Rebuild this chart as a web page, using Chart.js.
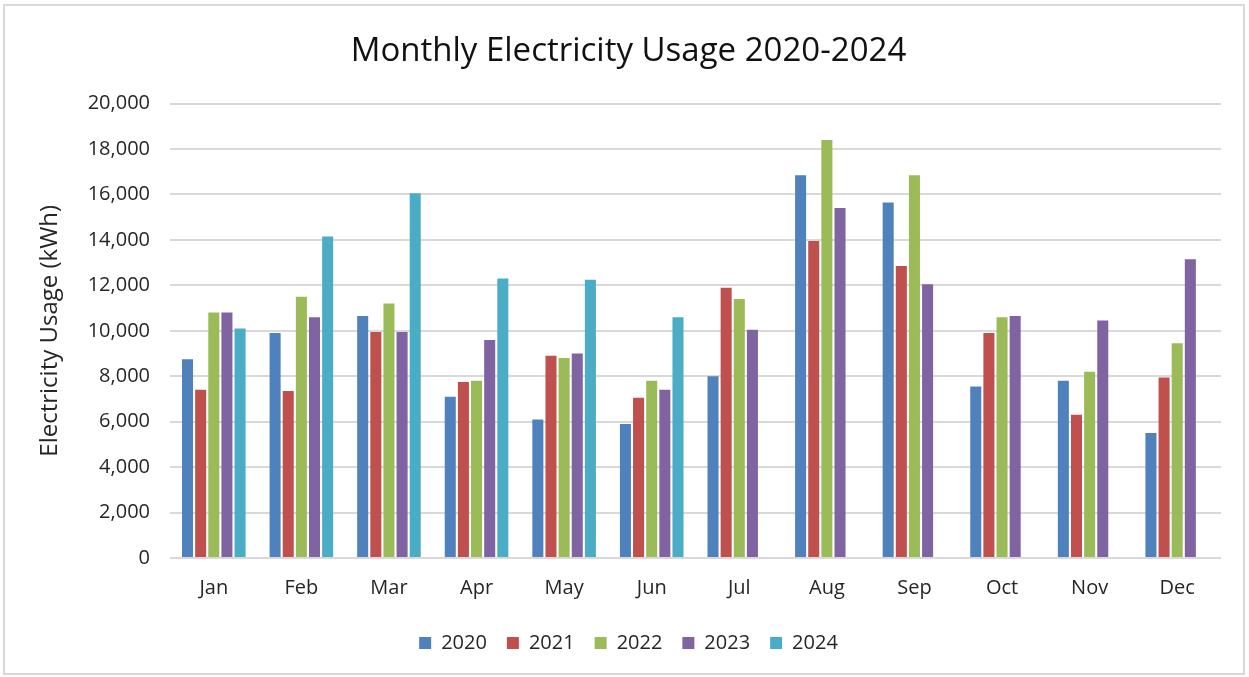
<!DOCTYPE html>
<html>
<head>
<meta charset="utf-8">
<script src="https://cdn.jsdelivr.net/npm/chart.js@4"></script>
<style>
  html, body { margin: 0; padding: 0; background: #ffffff; }
  #wrap { position: absolute; left: 0; top: 0; width: 1249px; height: 677px; }
</style>
</head>
<body>
<div id="wrap"><canvas id="c" width="1249" height="677"></canvas></div>
<script>
const months = ['Jan','Feb','Mar','Apr','May','Jun','Jul','Aug','Sep','Oct','Nov','Dec'];
const years = ['2020','2021','2022','2023','2024'];
const usage2020 = [8750, 9900, 10650, 7100, 6100, 5900, 8000, 16850, 15650, 7550, 7800, 5500];
const usage2021 = [7400, 7350, 9950, 7750, 8900, 7050, 11900, 13950, 12850, 9900, 6300, 7950];
const usage2022 = [10800, 11500, 11200, 7800, 8800, 7800, 11400, 18400, 16850, 10600, 8200, 9450];
const usage2023 = [10800, 10600, 9950, 9600, 9000, 7400, 10050, 15400, 12050, 10650, 10450, 13150];
const usage2024 = [10100, 14150, 16050, 12300, 12250, 10600, null, null, null, null, null, null];
const seriesColors = ['#4f81bd', '#c0504d', '#9bbb59', '#8064a2', '#4bacc6'];
const allSeries = [usage2020, usage2021, usage2022, usage2023, usage2024];

const FONT = '"Open Sans", sans-serif';
const TXT = '#262626';

const borderPlugin = {
  id: 'frame',
  beforeDraw(chart) {
    const ctx = chart.ctx;
    ctx.save();
    ctx.fillStyle = '#ffffff';
    ctx.fillRect(0, 0, chart.width, chart.height);
    ctx.strokeStyle = '#d9d9d9';
    ctx.lineWidth = 2;
    ctx.strokeRect(4, 5, 1240, 669);
    ctx.restore();
  }
};

new Chart(document.getElementById('c'), {
  type: 'bar',
  data: {
    labels: months,
    datasets: years.map((y, i) => ({
      label: y,
      data: allSeries[i],
      backgroundColor: seriesColors[i],
      borderWidth: 0,
      categoryPercentage: 0.75,
      barPercentage: 0.84
    }))
  },
  plugins: [borderPlugin],
  options: {
    responsive: false,
    animation: false,
    devicePixelRatio: 1,
    layout: { padding: { left: 36, right: 28, top: 0, bottom: 14 } },
    plugins: {
      title: {
        display: true,
        text: 'Monthly Electricity Usage 2020-2024',
        color: '#111111',
        font: { family: FONT, size: 33, weight: 'normal' },
        padding: { top: 32, bottom: 32 }
      },
      legend: {
        position: 'bottom',
        labels: {
          color: TXT,
          font: { family: FONT, size: 20 },
          boxWidth: 12,
          boxHeight: 12,
          padding: 20
        }
      },
      tooltip: { enabled: false }
    },
    scales: {
      x: {
        grid: { display: false, drawTicks: false },
        border: { display: false },
        ticks: { color: TXT, font: { family: FONT, size: 20 }, padding: 18 },
        afterFit(scale) { scale.height = 55; }
      },
      y: {
        min: 0,
        max: 20000,
        grid: { color: '#d9d9d9', lineWidth: 2, drawTicks: false },
        border: { display: false },
        ticks: {
          stepSize: 2000,
          color: TXT,
          font: { family: FONT, size: 20 },
          padding: 20,
          callback: v => v.toLocaleString('en-US')
        },
        title: {
          display: true,
          text: 'Electricity Usage (kWh)',
          color: TXT,
          font: { family: FONT, size: 24 },
          padding: { top: 0, bottom: 4 }
        },
        afterFit(scale) { scale.width = 134; }
      }
    }
  }
});
</script>
</body>
</html>
